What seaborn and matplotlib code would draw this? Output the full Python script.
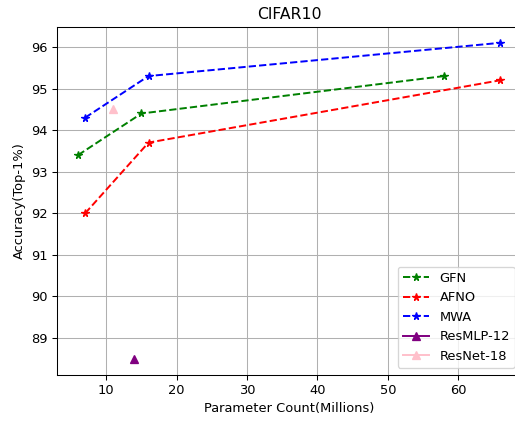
import matplotlib
matplotlib.use("Agg")
import matplotlib.pyplot as plt
import seaborn as sns

# params (millions) and top-1 accuracy on CIFAR10
gfn_params = [6, 15, 58]
gfn_acc = [93.4, 94.4, 95.3]

afno_params = [7, 16, 66]
afno_acc = [92.0, 93.7, 95.2]

mwa_params = [7, 16, 66]
mwa_acc = [94.3, 95.3, 96.1]

resmlp_params = [14]
resmlp_acc = [88.5]

resnet_params = [11]
resnet_acc = [94.5]

# original looks like a default figure scaled down a bit, so render at 94 dpi
DPI = 94
fig = plt.figure(figsize=(515 / DPI, 421 / DPI), dpi=DPI)
# axes runs a bit past the right edge, like the cropped original
ax = fig.add_axes([57 / 515, 46.4 / 421, (521.6 - 57) / 515, (394 - 46.4) / 421])

series = [
    (gfn_params, gfn_acc, 'green', '*', '--', 'GFN'),
    (afno_params, afno_acc, 'red', '*', '--', 'AFNO'),
    (mwa_params, mwa_acc, 'blue', '*', '--', 'MWA'),
    (resmlp_params, resmlp_acc, 'purple', '^', '-', 'ResMLP-12'),
    (resnet_params, resnet_acc, 'pink', '^', '-', 'ResNet-18'),
]
for xs, ys, c, m, ls, lab in series:
    sns.lineplot(x=xs, y=ys, ax=ax, color=c, marker=m, linestyle=ls, label=lab,
                 markeredgecolor=c, markeredgewidth=1, markersize=6)

ax.set_title('CIFAR10')
ax.set_xlabel('Parameter Count(Millions)')
ax.set_ylabel('Accuracy(Top-1%)')
ax.grid(True)
ax.legend(loc='lower right')

plt.savefig('out.png', dpi=DPI)
